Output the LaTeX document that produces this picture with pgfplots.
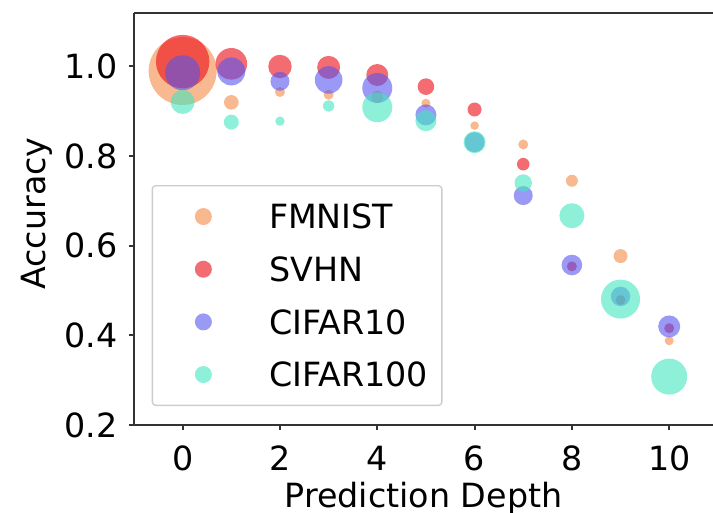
\documentclass[border=0pt]{standalone}
\usepackage{fontspec}
\setmainfont{DejaVu Sans}
\usepackage{pgfplots}
\pgfplotsset{compat=1.18}
\usepackage{pgfplotstable}
\definecolor{cfm}{RGB}{243,138,70}
\definecolor{csv}{RGB}{235,10,20}
\definecolor{cca}{RGB}{87,85,238}
\definecolor{ccb}{RGB}{67,230,190}
% r = bubble radius in pixels of the reference (1px = 0.3pt)
\pgfplotstableread{
x y r
0 0.990 34
1 0.920 7.3
2 0.943 5
3 0.937 5
4 0.932 6
5 0.918 4.5
6 0.868 4.3
7 0.826 5
8 0.745 6
9 0.577 7
10 0.388 4.5
}\fmnist
\pgfplotstableread{
x y r
0 1.011 26.7
1 1.006 15.8
2 1.000 11.7
3 0.998 11.5
4 0.981 11
5 0.955 8.3
6 0.904 7
7 0.782 6.3
8 0.554 5
9 0.479 5
10 0.416 5
}\svhn
\pgfplotstableread{
x y r
0 0.986 17.5
1 0.989 14
2 0.967 9.5
3 0.970 13.8
4 0.952 15
5 0.892 10.5
6 0.831 10
7 0.712 9.5
8 0.557 10.3
9 0.487 9.7
10 0.420 11
}\cifara
\pgfplotstableread{
x y r
0 0.921 12
1 0.876 7.5
2 0.878 4.7
3 0.912 5.7
4 0.909 15
5 0.879 10.5
6 0.831 11
7 0.740 8.7
8 0.667 12.5
9 0.481 19.5
10 0.308 18
}\cifarb
\pgfplotsset{bub/.style={scatter, only marks, mark=*, color=#1, draw=none,
  mark options={draw=none, draw opacity=0, fill=#1, fill opacity=0.6},
  scatter/use mapped color={draw=none, draw opacity=0, fill=#1, fill opacity=0.6},
  visualization depends on={0.3*\thisrow{r} \as \rad},
  scatter/@pre marker code/.append style={/tikz/mark size=\rad pt},
  legend image code/.code={\path[draw=none,fill=none] (-11.1pt,0pt) -- (19.7pt,0pt); \path[draw=none, fill=#1, fill opacity=0.6] (0pt,0pt) circle (2.55pt);}
}}
\begin{document}
\begin{tikzpicture}
\path[use as bounding box] (0,0) rectangle (213.9pt,153.6pt);
\begin{axis}[
  at={(40.2pt,26.1pt)}, anchor=south west,
  width=173.7pt, height=123.7pt, scale only axis,
  xmin=-1.0, xmax=10.9, ymin=0.2, ymax=1.12,
  axis x line*=bottom, axis y line*=left,
  axis line style={black!80, line width=0.6pt},
  xtick={0,2,...,10}, ytick={0.2,0.4,0.6,0.8,1.0},
  yticklabel style={/pgf/number format/fixed, /pgf/number format/fixed zerofill, /pgf/number format/precision=1},
  xticklabel style={anchor=base, yshift=-12.2pt},
  /pgf/number format/assume math mode=true,
  tick align=outside, major tick length=1.5pt,
  tick style={black!80, line width=0.6pt},
  xlabel={Prediction Depth}, ylabel={Accuracy},
  xlabel style={at={(axis description cs:0.5,0)}, anchor=base, yshift=-24.7pt},
  ylabel style={at={(axis description cs:0,0.513)}, anchor=center, yshift=29.1pt},
  clip=false,
  legend style={at={(0.0306,0.582)}, anchor=north west, draw=black!20, line width=0.4pt, rounded corners=1pt, fill=white,
    inner xsep=4.2pt, inner ysep=5.6pt, row sep=8.5pt,
    nodes={inner sep=0pt, text height=7.3pt, text depth=0pt}},
  legend cell align=left,
  after end axis/.code={\draw[black!80, line width=0.6pt] (rel axis cs:0,1) -- (rel axis cs:1,1);},
]
\addplot[bub=cfm] table[x=x,y=y] {\fmnist};
\addlegendentry{FMNIST}
\addplot[bub=csv] table[x=x,y=y] {\svhn};
\addlegendentry{SVHN}
\addplot[bub=cca] table[x=x,y=y] {\cifara};
\addlegendentry{CIFAR10}
\addplot[bub=ccb] table[x=x,y=y] {\cifarb};
\addlegendentry{CIFAR100}
\end{axis}
\end{tikzpicture}
\end{document}
